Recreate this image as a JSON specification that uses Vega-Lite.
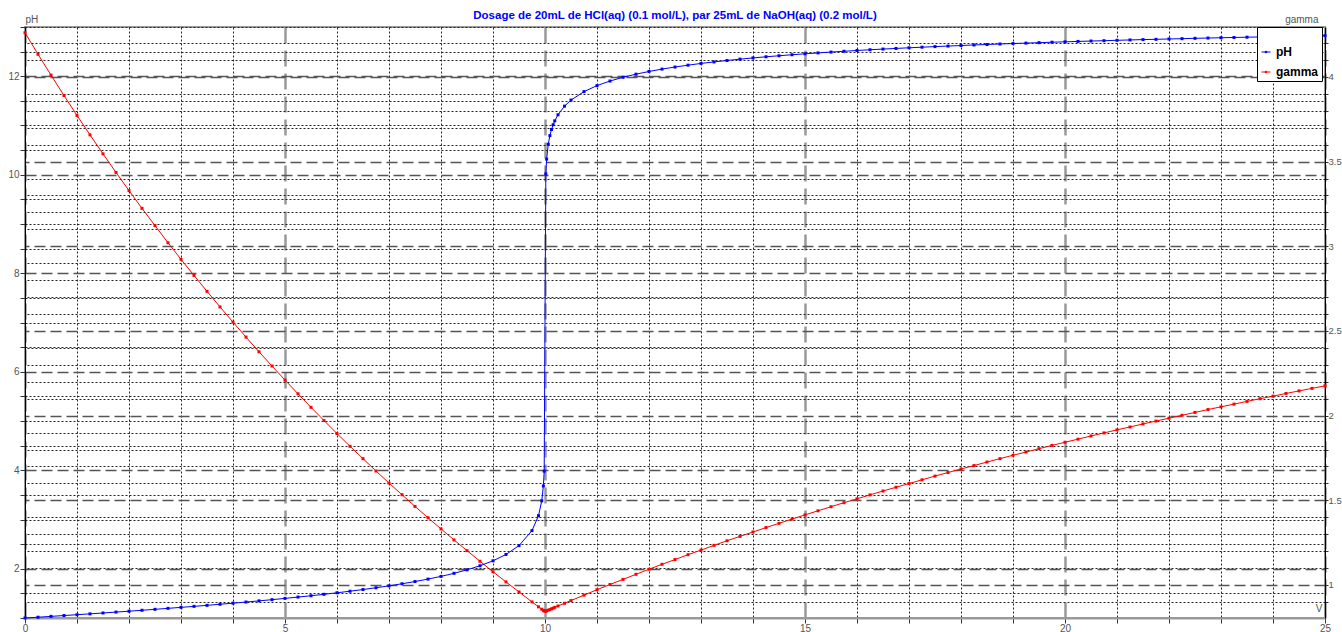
{
  "$schema": "https://vega.github.io/schema/vega-lite/v6.json",
  "width": 1300,
  "height": 591,
  "autosize": {"type": "none"},
  "padding": {"left": 25, "top": 27, "right": 17, "bottom": 14},
  "background": "white",
  "title": {
    "text": "Dosage de 20mL de HCl(aq) (0.1 mol/L),  par 25mL  de NaOH(aq) (0.2 mol/L)",
    "color": "#0000ff",
    "font": "Liberation Sans",
    "fontSize": 11.5,
    "fontWeight": "bold",
    "anchor": "middle",
    "frame": "group",
    "offset": -7
  },
  "data": {
    "values": [
      {"V":0,"pH":1.000,"gamma":4.261},
      {"V":0.25,"pH":1.016,"gamma":4.134},
      {"V":0.5,"pH":1.033,"gamma":4.011},
      {"V":0.75,"pH":1.050,"gamma":3.890},
      {"V":1,"pH":1.067,"gamma":3.773},
      {"V":1.25,"pH":1.084,"gamma":3.658},
      {"V":1.5,"pH":1.102,"gamma":3.546},
      {"V":1.75,"pH":1.120,"gamma":3.436},
      {"V":2,"pH":1.138,"gamma":3.329},
      {"V":2.25,"pH":1.157,"gamma":3.224},
      {"V":2.5,"pH":1.176,"gamma":3.122},
      {"V":2.75,"pH":1.196,"gamma":3.021},
      {"V":3,"pH":1.216,"gamma":2.923},
      {"V":3.25,"pH":1.236,"gamma":2.828},
      {"V":3.5,"pH":1.257,"gamma":2.734},
      {"V":3.75,"pH":1.279,"gamma":2.642},
      {"V":4,"pH":1.301,"gamma":2.552},
      {"V":4.25,"pH":1.324,"gamma":2.464},
      {"V":4.5,"pH":1.348,"gamma":2.377},
      {"V":4.75,"pH":1.372,"gamma":2.293},
      {"V":5,"pH":1.398,"gamma":2.210},
      {"V":5.25,"pH":1.425,"gamma":2.129},
      {"V":5.5,"pH":1.452,"gamma":2.049},
      {"V":5.75,"pH":1.481,"gamma":1.971},
      {"V":6,"pH":1.512,"gamma":1.894},
      {"V":6.25,"pH":1.544,"gamma":1.819},
      {"V":6.5,"pH":1.578,"gamma":1.746},
      {"V":6.75,"pH":1.614,"gamma":1.673},
      {"V":7,"pH":1.653,"gamma":1.602},
      {"V":7.25,"pH":1.695,"gamma":1.533},
      {"V":7.5,"pH":1.740,"gamma":1.464},
      {"V":7.75,"pH":1.790,"gamma":1.397},
      {"V":8,"pH":1.845,"gamma":1.331},
      {"V":8.25,"pH":1.907,"gamma":1.266},
      {"V":8.5,"pH":1.978,"gamma":1.203},
      {"V":8.75,"pH":2.061,"gamma":1.140},
      {"V":9,"pH":2.161,"gamma":1.078},
      {"V":9.25,"pH":2.290,"gamma":1.018},
      {"V":9.5,"pH":2.470,"gamma":0.959},
      {"V":9.75,"pH":2.775,"gamma":0.900},
      {"V":9.875,"pH":3.077,"gamma":0.871},
      {"V":9.9375,"pH":3.379,"gamma":0.857},
      {"V":9.96875,"pH":3.681,"gamma":0.850},
      {"V":9.984375,"pH":3.982,"gamma":0.846},
      {"V":10.015625,"pH":10.018,"gamma":0.845},
      {"V":10.03125,"pH":10.318,"gamma":0.847},
      {"V":10.0625,"pH":10.619,"gamma":0.851},
      {"V":10.09375,"pH":10.795,"gamma":0.855},
      {"V":10.125,"pH":10.919,"gamma":0.859},
      {"V":10.15625,"pH":11.016,"gamma":0.863},
      {"V":10.1875,"pH":11.094,"gamma":0.868},
      {"V":10.25,"pH":11.218,"gamma":0.876},
      {"V":10.375,"pH":11.393,"gamma":0.892},
      {"V":10.5,"pH":11.516,"gamma":0.908},
      {"V":10.75,"pH":11.688,"gamma":0.940},
      {"V":11,"pH":11.810,"gamma":0.972},
      {"V":11.25,"pH":11.903,"gamma":1.003},
      {"V":11.5,"pH":11.979,"gamma":1.033},
      {"V":11.75,"pH":12.042,"gamma":1.063},
      {"V":12,"pH":12.097,"gamma":1.093},
      {"V":12.25,"pH":12.145,"gamma":1.122},
      {"V":12.5,"pH":12.187,"gamma":1.150},
      {"V":12.75,"pH":12.225,"gamma":1.179},
      {"V":13,"pH":12.260,"gamma":1.206},
      {"V":13.25,"pH":12.291,"gamma":1.234},
      {"V":13.5,"pH":12.320,"gamma":1.261},
      {"V":13.75,"pH":12.347,"gamma":1.287},
      {"V":14,"pH":12.372,"gamma":1.313},
      {"V":14.25,"pH":12.395,"gamma":1.339},
      {"V":14.5,"pH":12.416,"gamma":1.364},
      {"V":14.75,"pH":12.437,"gamma":1.389},
      {"V":15,"pH":12.456,"gamma":1.414},
      {"V":15.25,"pH":12.474,"gamma":1.438},
      {"V":15.5,"pH":12.491,"gamma":1.462},
      {"V":15.75,"pH":12.507,"gamma":1.486},
      {"V":16,"pH":12.523,"gamma":1.509},
      {"V":16.25,"pH":12.538,"gamma":1.532},
      {"V":16.5,"pH":12.552,"gamma":1.555},
      {"V":16.75,"pH":12.565,"gamma":1.577},
      {"V":17,"pH":12.578,"gamma":1.599},
      {"V":17.25,"pH":12.590,"gamma":1.621},
      {"V":17.5,"pH":12.602,"gamma":1.643},
      {"V":17.75,"pH":12.613,"gamma":1.664},
      {"V":18,"pH":12.624,"gamma":1.685},
      {"V":18.25,"pH":12.635,"gamma":1.705},
      {"V":18.5,"pH":12.645,"gamma":1.726},
      {"V":18.75,"pH":12.655,"gamma":1.746},
      {"V":19,"pH":12.664,"gamma":1.766},
      {"V":19.25,"pH":12.673,"gamma":1.785},
      {"V":19.5,"pH":12.682,"gamma":1.805},
      {"V":19.75,"pH":12.691,"gamma":1.824},
      {"V":20,"pH":12.699,"gamma":1.843},
      {"V":20.25,"pH":12.707,"gamma":1.861},
      {"V":20.5,"pH":12.715,"gamma":1.880},
      {"V":20.75,"pH":12.722,"gamma":1.898},
      {"V":21,"pH":12.730,"gamma":1.916},
      {"V":21.25,"pH":12.737,"gamma":1.933},
      {"V":21.5,"pH":12.744,"gamma":1.951},
      {"V":21.75,"pH":12.750,"gamma":1.968},
      {"V":22,"pH":12.757,"gamma":1.985},
      {"V":22.25,"pH":12.763,"gamma":2.002},
      {"V":22.5,"pH":12.770,"gamma":2.019},
      {"V":22.75,"pH":12.776,"gamma":2.036},
      {"V":23,"pH":12.782,"gamma":2.052},
      {"V":23.25,"pH":12.787,"gamma":2.068},
      {"V":23.5,"pH":12.793,"gamma":2.084},
      {"V":23.75,"pH":12.798,"gamma":2.100},
      {"V":24,"pH":12.804,"gamma":2.115},
      {"V":24.25,"pH":12.809,"gamma":2.131},
      {"V":24.5,"pH":12.814,"gamma":2.146},
      {"V":24.75,"pH":12.819,"gamma":2.161},
      {"V":25,"pH":12.824,"gamma":2.176}
    ]
  },
  "encoding": {
    "x": {
      "field": "V",
      "type": "quantitative",
      "scale": {"domain": [0, 25], "nice": false, "zero": false},
      "axis": {
        "values": [0,1,2,3,4,5,6,7,8,9,10,11,12,13,14,15,16,17,18,19,20,21,22,23,24,25],
        "grid": true,
        "gridColor": {"condition": {"test": "datum.value % 5 === 0", "value": "#999999"}, "value": "#222222"},
        "gridDash": {"condition": {"test": "datum.value % 5 === 0", "value": [16, 7]}, "value": [2, 2]},
        "gridWidth": {"condition": {"test": "datum.value % 5 === 0", "value": 2.5}, "value": 1},
        "labelExpr": "datum.value % 5 === 0 ? format(datum.value, 'd') : ''",
        "labelFlush": false,
        "labelOverlap": false,
        "labelPadding": 0,
        "tickSize": 5,
        "tickColor": "#333333",
        "domainColor": "#999999",
        "domainWidth": 2,
        "title": "V",
        "titleX": 1297,
        "titleY": -5,
        "titleAlign": "right",
        "titleBaseline": "bottom",
        "titleFontWeight": "normal",
        "titleFontSize": 10
      }
    }
  },
  "layer": [
    {
      "mark": {"type": "line", "strokeWidth": 1, "point": {"shape": "square", "size": 9, "filled": true}},
      "encoding": {
        "y": {
          "field": "gamma",
          "type": "quantitative",
          "scale": {"domain": [0.805, 4.295], "nice": false, "zero": false},
          "axis": {
            "orient": "right",
            "values": [0.9,1,1.1,1.2,1.3,1.4,1.5,1.6,1.7,1.8,1.9,2,2.1,2.2,2.3,2.4,2.5,2.6,2.7,2.8,2.9,3,3.1,3.2,3.3,3.4,3.5,3.6,3.7,3.8,3.9,4,4.1,4.2],
            "grid": true,
            "gridColor": {"condition": {"test": "abs(datum.value*2 - round(datum.value*2)) < 0.001", "value": "#555555"}, "value": "#222222"},
            "gridDash": {"condition": {"test": "abs(datum.value*2 - round(datum.value*2)) < 0.001", "value": [11, 5]}, "value": [2, 2]},
            "gridWidth": {"condition": {"test": "abs(datum.value*2 - round(datum.value*2)) < 0.001", "value": 1.5}, "value": 1},
            "labelExpr": "abs(datum.value*2 - round(datum.value*2)) < 0.001 ? format(datum.value, '~g') : ''",
            "labelOverlap": false,
            "labelPadding": 0,
            "labelFontSize": 9.5,
            "tickSize": 3,
            "tickColor": "#333333",
            "domainColor": "#000000",
            "title": "gamma",
            "titleAngle": 0,
            "titleX": -7,
            "titleY": -5,
            "titleAlign": "right",
            "titleBaseline": "alphabetic",
            "titleFontWeight": "normal",
            "titleFontSize": 10
          }
        },
        "color": {
          "datum": "gamma",
          "type": "nominal",
          "scale": {"domain": ["pH", "gamma"], "range": ["#0000ff", "#ff0000"]}
        }
      }
    },
    {
      "mark": {"type": "line", "strokeWidth": 1, "point": {"shape": "square", "size": 9, "filled": true}},
      "encoding": {
        "y": {
          "field": "pH",
          "type": "quantitative",
          "scale": {"domain": [1, 13], "nice": false, "zero": false},
          "axis": {
            "orient": "left",
            "values": [1,1.5,2,2.5,3,3.5,4,4.5,5,5.5,6,6.5,7,7.5,8,8.5,9,9.5,10,10.5,11,11.5,12,12.5,13],
            "grid": true,
            "gridColor": {"condition": {"test": "datum.value % 2 === 0", "value": "#555555"}, "value": "#222222"},
            "gridDash": {"condition": {"test": "datum.value % 2 === 0", "value": [11, 5]}, "value": [2, 2]},
            "gridWidth": {"condition": {"test": "datum.value % 2 === 0", "value": 1.5}, "value": 1},
            "labelExpr": "datum.value % 2 === 0 ? format(datum.value, '~g') : ''",
            "labelOverlap": false,
            "labelPadding": 1,
            "tickSize": 5,
            "tickColor": "#333333",
            "domainColor": "#000000",
            "title": "pH",
            "titleAngle": 0,
            "titleX": 0,
            "titleY": -5,
            "titleAlign": "left",
            "titleBaseline": "alphabetic",
            "titleFontWeight": "normal",
            "titleFontSize": 10
          }
        },
        "color": {
          "datum": "pH",
          "type": "nominal",
          "scale": {"domain": ["pH", "gamma"], "range": ["#0000ff", "#ff0000"]},
          "legend": {
            "orient": "none",
            "legendX": 1232,
            "legendY": 0,
            "title": " ",
            "titleFontSize": 12,
            "titlePadding": 4,
            "padding": 3,
            "rowPadding": 8,
            "strokeColor": "#000000",
            "fillColor": "#ffffff",
            "symbolType": "M-1,0H1M-0.15,-0.15H0.15V0.15H-0.15Z",
            "symbolSize": 81,
            "symbolStrokeWidth": 1,
            "labelFont": "Liberation Sans",
            "labelFontSize": 12,
            "labelFontWeight": "bold",
            "labelColor": "#000000",
            "labelOffset": 4
          }
        }
      }
    }
  ],
  "resolve": {"scale": {"y": "independent"}},
  "config": {
    "view": {"stroke": "#999999", "strokeWidth": 2},
    "axis": {
      "labelFont": "Liberation Sans",
      "labelFontSize": 10,
      "labelColor": "#555555",
      "titleFont": "Liberation Sans",
      "titleColor": "#555555"
    }
  }
}
